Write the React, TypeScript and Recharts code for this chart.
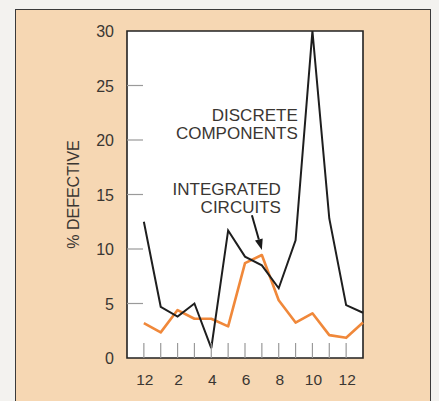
import React from "react";
import { LineChart, Line, XAxis, YAxis, ReferenceArea, ReferenceDot, ReferenceLine } from "recharts";

const monthLabels = ["12", "1", "2", "3", "4", "5", "6", "7", "8", "9", "10", "11", "12", "1"];
const discrete = [12.5, 4.7, 3.8, 5.0, 0.9, 11.7, 9.3, 8.5, 6.4, 10.8, 30, 12.8, 4.85, 4.15];
const integrated = [3.2, 2.35, 4.4, 3.6, 3.6, 2.9, 8.7, 9.45, 5.3, 3.25, 4.1, 2.1, 1.85, 3.25];
const yTicks = [0, 5, 10, 15, 20, 25, 30];
const xTicks = [0, 1, 2, 3, 4, 5, 6, 7, 8, 9, 10, 11, 12];
const labelledX = [0, 2, 4, 6, 8, 10, 12];

const data = monthLabels.map((m, i) => ({ idx: i, month: m, discrete: discrete[i], integrated: integrated[i] }));

const FONT = "'Liberation Sans', Arial, Helvetica, sans-serif";
const TEXT = "#3a3632";

const XTick = (props: any) => {
  const { x, y, payload } = props;
  const v = payload.value;
  return (
    <g>
      <line x1={x} y1={y} x2={x} y2={y - 15} stroke="#9a9a9a" strokeWidth={1.2} />
      {labelledX.includes(v) && (
        <text x={x + 1} y={y + 27} textAnchor="middle" fontSize={15.5} fontFamily={FONT} fill={TEXT}>
          {monthLabels[v]}
        </text>
      )}
    </g>
  );
};

const YTick = (props: any) => {
  const { x, y, payload } = props;
  const v = payload.value;
  return (
    <g>
      {v !== 0 && v !== 30 && <line x1={x} y1={y} x2={x + 16} y2={y} stroke="#9a9a9a" strokeWidth={1.2} />}
      <text x={x - 13} y={y + 6} textAnchor="end" fontSize={16} fontFamily={FONT} fill={TEXT}>
        {v}
      </text>
    </g>
  );
};

const TextBlock = (lines: string[]) => (props: any) => {
  const { cx, cy } = props;
  return (
    <text x={cx} y={cy} textAnchor="end" fontSize={17} fontFamily={FONT} fill={TEXT}>
      {lines.map((l, i) => (
        <tspan key={i} x={cx} dy={i === 0 ? 6 : 18}>
          {l}
        </tspan>
      ))}
    </text>
  );
};

const ArrowShape = (props: any) => {
  const { x1, y1, x2, y2 } = props;
  if ([x1, y1, x2, y2].some((v) => v === undefined || isNaN(v))) return null;
  const ang = Math.atan2(y2 - y1, x2 - x1);
  const L = 11;
  const W = 4;
  const bx = x2 - L * Math.cos(ang);
  const by = y2 - L * Math.sin(ang);
  const px = -Math.sin(ang) * W;
  const py = Math.cos(ang) * W;
  return (
    <g>
      <line x1={x1} y1={y1} x2={bx} y2={by} stroke="#1a1a1a" strokeWidth={2} />
      <polygon points={`${x2},${y2} ${bx + px},${by + py} ${bx - px},${by - py}`} fill="#1a1a1a" />
    </g>
  );
};

export default function App() {
  return (
    <div style={{ position: "absolute", left: 0, top: 0, width: 439, height: 401, background: "#f3f2ef", overflow: "hidden" }}>
      <div
        style={{
          position: "absolute",
          left: 15,
          top: 9,
          width: 414,
          height: 420,
          background: "#f6d7b3",
          border: "1.5px solid #3a3a3a",
        }}
      />
      <div style={{ position: "absolute", left: 0, top: 0 }}>
        <LineChart width={439} height={401} data={data} margin={{ top: 31, right: 76, bottom: 13, left: 67 }}>
          <ReferenceArea x1={-1} x2={13} y1={0} y2={30} fill="#ffffff" fillOpacity={1} stroke="#222" strokeWidth={1.6} ifOverflow="visible" />
          <XAxis
            dataKey="idx"
            type="number"
            domain={[-1, 13]}
            ticks={xTicks}
            interval={0}
            height={30}
            tickSize={0}
            tickMargin={0}
            axisLine={false}
            tickLine={false}
            tick={<XTick />}
            allowDecimals={false}
          />
          <YAxis
            type="number"
            domain={[0, 30]}
            ticks={yTicks}
            interval={0}
            width={60}
            tickSize={0}
            tickMargin={0}
            axisLine={false}
            tickLine={false}
            tick={<YTick />}
            label={{ value: "% DEFECTIVE", angle: -90, position: "insideLeft", offset: 6, style: { fontSize: 16, fontFamily: FONT, fill: TEXT, textAnchor: "middle" } }}
          />
          <Line dataKey="integrated" stroke="#f0883a" strokeWidth={2.6} dot={false} isAnimationActive={false} strokeLinejoin="round" />
          <Line dataKey="discrete" stroke="#1e1e1e" strokeWidth={2} dot={false} isAnimationActive={false} strokeLinejoin="miter" />
          <ReferenceDot x={9.13} y={22.3} r={0} shape={TextBlock(["DISCRETE", "COMPONENTS"])} ifOverflow="visible" />
          <ReferenceDot x={8.13} y={15.5} r={0} shape={TextBlock(["INTEGRATED", "CIRCUITS"])} ifOverflow="visible" />
          <ReferenceLine segment={[{ x: 6.41, y: 13.1 }, { x: 7.0, y: 9.9 }]} shape={<ArrowShape />} ifOverflow="visible" />
        </LineChart>
      </div>
    </div>
  );
}
